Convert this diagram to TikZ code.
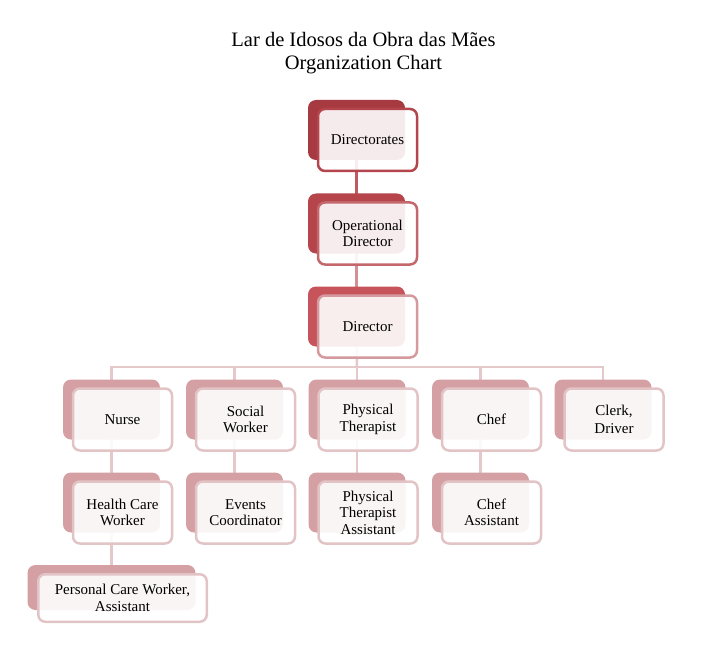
\documentclass[tikz,border=0pt]{standalone}
\usepackage{fontspec}
\setmainfont{Liberation Serif}
\usetikzlibrary{backgrounds}

\definecolor{tabA}{HTML}{A63A40}
\definecolor{tabB}{HTML}{B5454A}
\definecolor{tabC}{HTML}{C6545A}
\definecolor{tabD}{HTML}{D5A0A3}
\definecolor{lineA}{HTML}{B5454C}
\definecolor{lineB}{HTML}{C4676D}
\definecolor{lineC}{HTML}{D59A9E}
\definecolor{lineD}{HTML}{E3C4C6}
\definecolor{linkA}{HTML}{C05A60}
\definecolor{linkB}{HTML}{D39196}
\definecolor{linkD}{HTML}{E5C8CA}

\begin{document}
\begin{tikzpicture}[x=1pt,y=-1pt,
    tab/.style={fill=#1, rounded corners=8pt, minimum width=97pt, minimum height=60pt, inner sep=0pt},
    box/.style={draw=#1, line width=2.5pt, fill=white, fill opacity=0.9, text opacity=1,
        rounded corners=7pt, minimum width=99pt, minimum height=62pt, inner sep=2pt,
        align=center, font=\fontsize{15}{16.5}\selectfont},
    link/.style={draw=#1, line width=2.5pt},
    title/.style={font=\fontsize{20.5}{23.5}\selectfont, inner sep=0pt}]
    \useasboundingbox (0,0) rectangle (720,655);

    % title
    \node[title, anchor=base] (H1) at (363.5,47) {Lar de Idosos da Obra das Mães};
    \node[title, anchor=base] (H2) at (363.5,70) {Organization Chart};

    % top of the chart
    \node[tab=tabA] (T1) at (356.5,130) {};
    \node[box=lineA] (D1) at (367.5,140) {Directorates};
    \node[tab=tabB] (T2) at (356.5,223.5) {};
    \node[box=lineB] (D2) at (367.5,233.5) {Operational\\Director};
    \node[tab=tabC] (T3) at (356.5,316.5) {};
    \node[box=lineC] (D3) at (367.5,326.5) {Director};

    % staff
    \node[tab=tabD] (N1) at (111.5,409.5) {};
    \node[box=lineD] (S1) at (122.5,419.5) {Nurse};
    \node[tab=tabD] (N2) at (234.5,409.5) {};
    \node[box=lineD] (S2) at (245.5,419.5) {Social\\Worker};
    \node[tab=tabD] (N3) at (357,409.5) {};
    \node[box=lineD] (S3) at (368,419.5) {Physical\\Therapist};
    \node[tab=tabD] (N4) at (480.5,409.5) {};
    \node[box=lineD] (S4) at (491.5,419.5) {Chef};
    \node[tab=tabD] (N5) at (603,409.5) {};
    \node[box=lineD, font=\fontsize{15}{18}\selectfont] (S5) at (614,419.5) {Clerk,\\Driver};

    % assistants
    \node[tab=tabD] (M1) at (111.5,502.5) {};
    \node[box=lineD] (A1) at (122.5,512.5) {Health Care\\Worker};
    \node[tab=tabD] (M2) at (234.5,502.5) {};
    \node[box=lineD] (A2) at (245.5,512.5) {Events\\Coordinator};
    \node[tab=tabD] (M3) at (357,502.5) {};
    \node[box=lineD] (A3) at (368,512.5) {Physical\\Therapist\\Assistant};
    \node[tab=tabD] (M4) at (480.5,502.5) {};
    \node[box=lineD] (A4) at (491.5,512.5) {Chef\\Assistant};

    \node[tab=tabD, minimum width=168pt, minimum height=45pt] (P1) at (111.5,587.5) {};
    \node[box=lineD, minimum width=168.5pt, minimum height=47.5pt] (Q1) at (122.5,598) {Personal Care Worker,\\Assistant};

    % connectors
    \begin{scope}[on background layer]
        \draw[link=linkA] (T1.center) -- (T2.center);
        \draw[link=linkB] (T2.center) -- (T3.center);
        \coordinate (bus) at (357,367);
        \draw[link=linkD] (T3.center) -- (bus);
        \foreach \n in {N1,N2,N3,N4,N5}
            \draw[link=linkD] (bus) -| (\n.center);
        \draw[link=linkD] (N1.center) -- (M1.center);
        \draw[link=linkD] (N2.center) -- (M2.center);
        \draw[link=linkD] (N3.center) -- (M3.center);
        \draw[link=linkD] (N4.center) -- (M4.center);
        \draw[link=linkD] (M1.center) -- (P1.center);
    \end{scope}
\end{tikzpicture}
\end{document}
